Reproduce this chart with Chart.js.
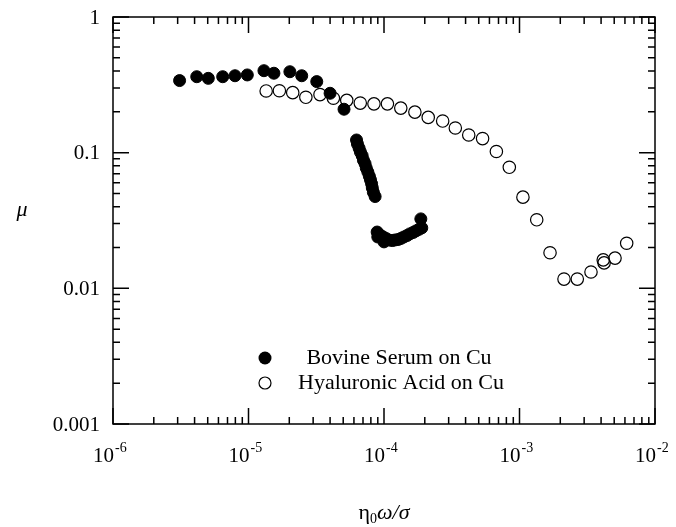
<!DOCTYPE html>
<html>
<head>
<meta charset="utf-8">
<script src="https://cdn.jsdelivr.net/npm/chart.js@4"></script>
<style>
  body { margin: 0; background: #fff; }
  canvas { display: block; }
</style>
</head>
<body>
<canvas id="stribeck" width="676" height="527"></canvas>
<script>
// values
const serumX = [3.1e-6, 4.15e-6, 5.05e-6, 6.45e-6, 7.95e-6, 9.8e-6, 1.3e-5, 1.54e-5, 2.02e-5, 2.47e-5, 3.19e-5, 4.0e-5, 5.07e-5,
  6.27e-5, 6.37e-5, 6.55e-5, 6.7e-5, 6.9e-5, 7.05e-5, 7.25e-5, 7.4e-5, 7.6e-5, 7.8e-5, 7.95e-5, 8.1e-5, 8.2e-5, 8.35e-5, 8.6e-5,
  8.9e-5, 9.0e-5, 9.35e-5, 9.8e-5, 1.0e-4, 1.035e-4, 1.09e-4, 1.15e-4, 1.2e-4, 1.27e-4, 1.33e-4, 1.4e-4, 1.48e-4, 1.55e-4, 1.64e-4,
  1.72e-4, 1.81e-4, 1.9e-4, 1.87e-4];
const serumY = [0.34, 0.363, 0.353, 0.363, 0.369, 0.374, 0.402, 0.385, 0.395, 0.369, 0.334, 0.274, 0.209,
  0.124, 0.116, 0.108, 0.101, 0.095, 0.088, 0.083, 0.077, 0.072, 0.067, 0.063, 0.059, 0.055, 0.051, 0.0475,
  0.026, 0.0239, 0.0247, 0.024, 0.022, 0.0233, 0.0227, 0.0225, 0.0227, 0.0229, 0.0233, 0.0239, 0.0245, 0.0252, 0.0258,
  0.0265, 0.0272, 0.0279, 0.0325];

const hyalX = [1.35e-5, 1.69e-5, 2.12e-5, 2.65e-5, 3.37e-5, 4.23e-5, 5.31e-5, 6.68e-5, 8.43e-5, 1.06e-4, 1.33e-4, 1.69e-4,
  2.12e-4, 2.71e-4, 3.36e-4, 4.22e-4, 5.34e-4, 6.75e-4, 8.41e-4, 1.06e-3, 1.34e-3, 1.68e-3, 2.13e-3, 2.67e-3, 3.37e-3,
  4.15e-3, 4.21e-3, 5.07e-3, 6.18e-3];
const hyalY = [0.285, 0.286, 0.277, 0.256, 0.268, 0.252, 0.243, 0.232, 0.229, 0.229, 0.213, 0.199,
  0.182, 0.171, 0.152, 0.135, 0.127, 0.102, 0.078, 0.047, 0.032, 0.0183, 0.0117, 0.0117, 0.0132,
  0.0162, 0.0154, 0.0167, 0.0215];

const seriesNames = ['Bovine Serum on Cu', 'Hyaluronic Acid on Cu'];

const xTickValues = [1e-6, 1e-5, 1e-4, 1e-3, 1e-2];
const xTickExponents = ['-6', '-5', '-4', '-3', '-2'];
const yTickValues = [0.001, 0.01, 0.1, 1];
const yTickLabels = ['0.001', '0.01', '0.1', '1'];
const minorSteps = [2, 3, 4, 5, 6, 7, 8, 9];

const xTitle = ['η', '0', 'ω/σ'];
const yTitle = 'μ';

const serif = '"Liberation Serif", "Times New Roman", serif';

function pairs(xs, ys) {
  return xs.map((v, i) => ({ x: v, y: ys[i] }));
}

// frame, inward ticks on all sides, labels and the legend
const framePlugin = {
  id: 'frame',
  afterDraw(chart) {
    const ctx = chart.ctx;
    const a = chart.chartArea;
    const xs = chart.scales.x, ys = chart.scales.y;
    ctx.save();
    ctx.strokeStyle = '#000';
    ctx.lineWidth = 1.5;
    ctx.strokeRect(a.left, a.top, a.right - a.left, a.bottom - a.top);

    ctx.beginPath();
    xTickValues.forEach((v, i) => {
      const px = xs.getPixelForValue(v);
      ctx.moveTo(px, a.bottom); ctx.lineTo(px, a.bottom - 16);
      ctx.moveTo(px, a.top); ctx.lineTo(px, a.top + 16);
      if (i < xTickValues.length - 1) {
        minorSteps.forEach(k => {
          const mx = xs.getPixelForValue(v * k);
          ctx.moveTo(mx, a.bottom); ctx.lineTo(mx, a.bottom - 7);
          ctx.moveTo(mx, a.top); ctx.lineTo(mx, a.top + 7);
        });
      }
    });
    yTickValues.forEach((v, i) => {
      const py = ys.getPixelForValue(v);
      ctx.moveTo(a.left, py); ctx.lineTo(a.left + 16, py);
      ctx.moveTo(a.right, py); ctx.lineTo(a.right - 16, py);
      if (i < yTickValues.length - 1) {
        minorSteps.forEach(k => {
          const my = ys.getPixelForValue(v * k);
          ctx.moveTo(a.left, my); ctx.lineTo(a.left + 7, my);
          ctx.moveTo(a.right, my); ctx.lineTo(a.right - 7, my);
        });
      }
    });
    ctx.stroke();

    ctx.fillStyle = '#000';
    // y tick labels
    ctx.font = '21px ' + serif;
    ctx.textAlign = 'right';
    ctx.textBaseline = 'middle';
    yTickValues.forEach((v, i) => {
      ctx.fillText(yTickLabels[i], a.left - 13, ys.getPixelForValue(v) + 1);
    });

    // x tick labels, 10 with raised exponent
    ctx.textBaseline = 'alphabetic';
    xTickValues.forEach((v, i) => {
      const px = xs.getPixelForValue(v);
      ctx.font = '21px ' + serif;
      ctx.textAlign = 'right';
      ctx.fillText('10', px + 1, 462);
      ctx.font = '14px ' + serif;
      ctx.textAlign = 'left';
      ctx.fillText(xTickExponents[i], px + 2, 452);
    });

    // axis titles
    ctx.font = 'italic 22px ' + serif;
    ctx.textAlign = 'center';
    ctx.textBaseline = 'middle';
    ctx.fillText(yTitle, 22, 210);

    const cx = (a.left + a.right) / 2;
    ctx.textBaseline = 'alphabetic';
    ctx.font = '22px ' + serif;
    const w1 = ctx.measureText(xTitle[0]).width;
    ctx.font = '14px ' + serif;
    const w2 = ctx.measureText(xTitle[1]).width;
    ctx.font = 'italic 22px ' + serif;
    const w3 = ctx.measureText(xTitle[2]).width;
    let tx = cx - (w1 + w2 + w3) / 2;
    ctx.textAlign = 'left';
    ctx.font = '22px ' + serif;
    ctx.fillText(xTitle[0], tx, 519);
    tx += w1;
    ctx.font = '14px ' + serif;
    ctx.fillText(xTitle[1], tx, 523);
    tx += w2;
    ctx.font = 'italic 22px ' + serif;
    ctx.fillText(xTitle[2], tx, 519);

    // legend
    ctx.beginPath();
    ctx.arc(265, 358, 6.5, 0, Math.PI * 2);
    ctx.fill();
    ctx.beginPath();
    ctx.lineWidth = 1.2;
    ctx.arc(265, 383, 6, 0, Math.PI * 2);
    ctx.stroke();
    ctx.font = '22px ' + serif;
    ctx.textAlign = 'center';
    ctx.textBaseline = 'middle';
    ctx.fillText(seriesNames[0], 399, 358);
    ctx.fillText(seriesNames[1], 401, 383);
    ctx.restore();
  }
};

new Chart(document.getElementById('stribeck'), {
  type: 'scatter',
  data: {
    datasets: [{
      label: seriesNames[0],
      data: pairs(serumX, serumY),
      pointRadius: 6,
      pointBorderWidth: 1,
      pointBackgroundColor: '#000',
      pointBorderColor: '#000'
    }, {
      label: seriesNames[1],
      data: pairs(hyalX, hyalY),
      pointRadius: 6.2,
      pointBorderWidth: 1.2,
      pointBackgroundColor: 'rgba(0,0,0,0)',
      pointBorderColor: '#000'
    }]
  },
  options: {
    responsive: false,
    animation: false,
    devicePixelRatio: 1,
    layout: { padding: { left: 113, top: 17, right: 21, bottom: 103 } },
    plugins: { legend: { display: false }, tooltip: { enabled: false } },
    scales: {
      x: { type: 'logarithmic', min: 1e-6, max: 1e-2, display: false },
      y: { type: 'logarithmic', min: 0.001, max: 1, display: false }
    }
  },
  plugins: [framePlugin]
});
</script>
</body>
</html>
